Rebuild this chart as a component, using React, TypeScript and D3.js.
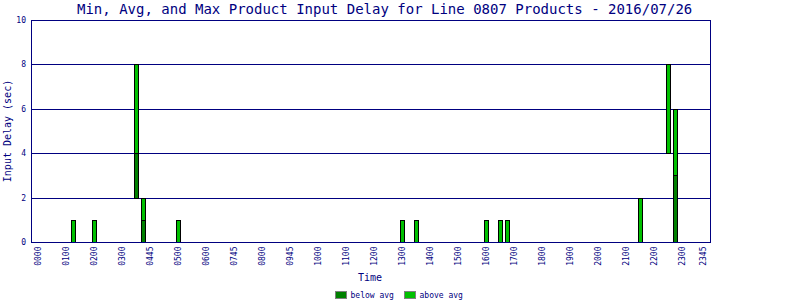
import React from "react";
import * as d3 from "d3";

const title = "Min, Avg, and Max Product Input Delay for Line 0807 Products - 2016/07/26";
const xTickLabels = ["0000","0100","0200","0300","0445","0500","0600","0745","0800","0945","1000","1100","1200","1300","1400","1500","1600","1700","1800","1900","2000","2100","2200","2300","2345"];
const xTickSlots = [0,4,8,12,16,20,24,28,32,36,40,44,48,52,56,60,64,68,72,76,80,84,88,92,95];
const yTicks = [0, 2, 4, 6, 8, 10];

// quarter-hour slot index of each bar
const barSlots = [5, 8, 14, 15, 20, 52, 54, 64, 66, 67, 86, 90, 91];
const minVals = [0, 0, 2, 0, 0, 0, 0, 0, 0, 0, 0, 4, 0];
const avgVals = [0, 0, 4, 1, 0, 0, 0, 0, 0, 0, 0, 4, 3];
const maxVals = [1, 1, 8, 2, 1, 1, 1, 1, 1, 1, 2, 8, 6];

const NAVY = "#000080";
const DARK = "#008000";
const LIGHT = "#00c000";
const FONT = "'DejaVu Sans Mono', monospace";

export default function App() {
  const W = 800, H = 300;
  const left = 31.5, right = 710.5, top = 20.5, bottom = 242.5;
  const x = d3.scaleLinear().domain([0, 95]).range([38.5, 703.5]);
  const y = d3.scaleLinear().domain([0, 10]).range([bottom, top]);
  const ry = (v: number) => Math.round(y(v) - 0.5) + 0.5;

  return (
    <svg width={W} height={H} style={{ position: "absolute", left: 0, top: 0, background: "#fff" }}>
      <rect x={0} y={0} width={W} height={H} fill="#fff" />
      <text x={77} y={14} fontFamily={FONT} fontSize={14} fill={NAVY}>{title}</text>
      {yTicks.slice(1, -1).map((t) => (
        <line key={"g" + t} x1={left} x2={right} y1={ry(t)} y2={ry(t)} stroke={NAVY} strokeWidth={1} />
      ))}
      {yTicks.map((t) => (
        <text key={"yt" + t} x={26} y={ry(t)} textAnchor="end" dominantBaseline="central" fontFamily={FONT} fontSize={8} fill={NAVY}>{t}</text>
      ))}
      {barSlots.map((s, i) => {
        const cx = x(s);
        const segs = [] as any[];
        if (avgVals[i] > minVals[i]) {
          segs.push(<rect key={"d" + i} x={cx - 2} y={ry(avgVals[i])} width={4} height={ry(minVals[i]) - ry(avgVals[i])} fill={DARK} stroke="#000" strokeWidth={1} />);
        }
        if (maxVals[i] > avgVals[i]) {
          segs.push(<rect key={"l" + i} x={cx - 2} y={ry(maxVals[i])} width={4} height={ry(avgVals[i]) - ry(maxVals[i])} fill={LIGHT} stroke="#000" strokeWidth={1} />);
        }
        return <g key={"b" + i}>{segs}</g>;
      })}
      <rect x={left} y={top} width={right - left} height={bottom - top} fill="none" stroke={NAVY} strokeWidth={1} />
      {xTickSlots.map((s, i) => (
        <text key={"xt" + i} transform={`translate(${x(s)},246.5) rotate(-90)`} textAnchor="end" dominantBaseline="central" fontFamily={FONT} fontSize={8} fill={NAVY}>{xTickLabels[i]}</text>
      ))}
      <text x={370} y={281} textAnchor="middle" fontFamily={FONT} fontSize={10} fill={NAVY}>Time</text>
      <text transform={`translate(7,131) rotate(-90)`} textAnchor="middle" dominantBaseline="central" fontFamily={FONT} fontSize={10} fill={NAVY}>Input Delay (sec)</text>
      <rect x={335.5} y={291.5} width={11} height={7} fill={DARK} stroke="#808080" strokeWidth={1} />
      <text x={350.5} y={298} fontFamily={FONT} fontSize={8} fill={NAVY}>below avg</text>
      <rect x={404.5} y={291.5} width={11} height={7} fill={LIGHT} stroke="#808080" strokeWidth={1} />
      <text x={419.5} y={298} fontFamily={FONT} fontSize={8} fill={NAVY}>above avg</text>
    </svg>
  );
}
